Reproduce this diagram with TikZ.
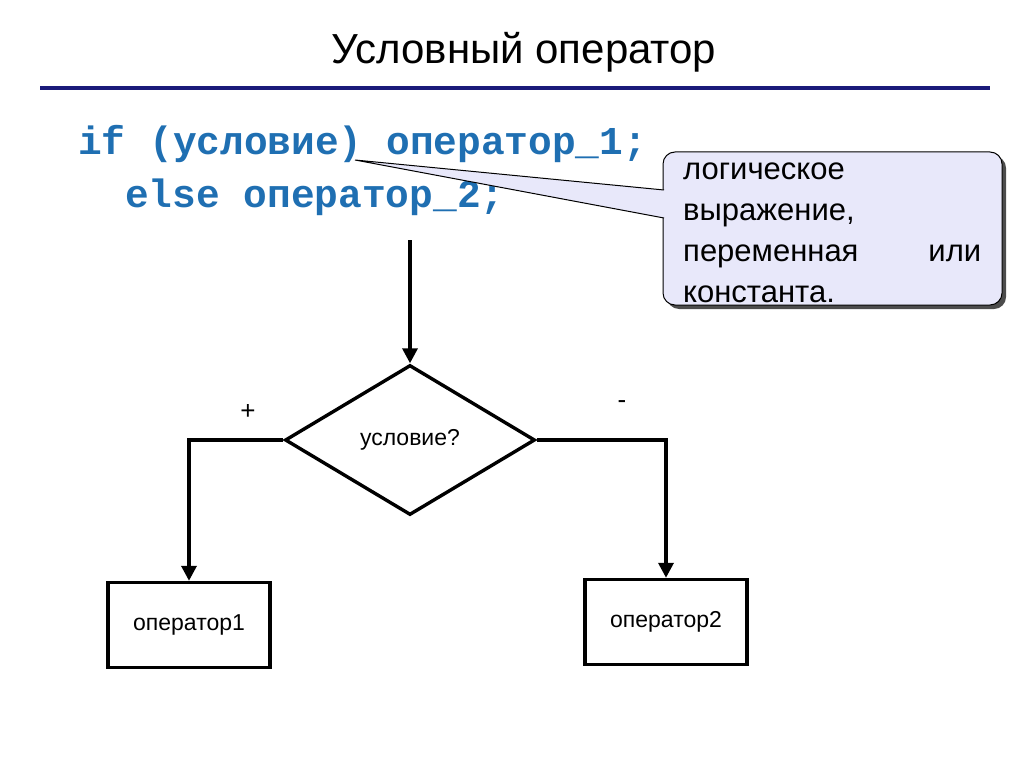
\documentclass[tikz,border=0pt]{standalone}
\usepackage{fontspec}
\setmainfont{Liberation Sans}
\newfontfamily\codefont{Liberation Mono}
\usetikzlibrary{arrows.meta,shapes.geometric}
\definecolor{codeblue}{HTML}{1F6FB2}
\definecolor{navy}{HTML}{1A1A7A}
\definecolor{lav}{HTML}{E8E8FA}
\begin{document}
\begin{tikzpicture}[x=1pt,y=-1pt,
  ln/.style={line width=3.4pt},
  arr/.style={ln,-{Triangle[length=15pt,width=15pt]}},
  opbox/.style={draw,line width=3.4pt,minimum width=162pt,minimum height=85pt,font=\fontsize{23}{26}\selectfont},
  code/.style={anchor=base west,text=codeblue,font=\codefont\bfseries\fontsize{39.5}{44}\selectfont,inner sep=0}]
\useasboundingbox (0,0) rectangle (1024,767);
\node[font=\fontsize{42}{46}\selectfont] (title) at (524,52) {Условный оператор};
\draw[navy,line width=3.5pt] (40,88) -- (990,88);
\node[code] (c1) at (78,155) {if (условие) оператор\_1;};
\node[code] (c2) at (125,208) {else оператор\_2;};
% callout
\fill[black!70,rounded corners=12pt] (667,156) rectangle (1006,309);
\draw[fill=lav,line width=1pt,rounded corners=12pt] (663,152) rectangle (1002,305);
\fill[lav] (664,190) -- (355,160) -- (664,218) -- cycle;
\draw[line width=1pt] (664,190) -- (355,160) -- (664,218);
\node[anchor=base west,align=left,text width=298pt,inner sep=0,font=\fontsize{31}{41}\selectfont] (note) at (683,180)
 {логическое\\выражение,\\переменная\hfill или\\константа.};
% flowchart
\coordinate (s) at (410,240);
\node[diamond,draw,ln,minimum width=250pt,minimum height=150pt,inner sep=0,aspect=1.67,font=\fontsize{23}{26}\selectfont] (d) at (410,440) {условие?};
\node[opbox] (b1) at (189,625) {оператор1};
\node[opbox] (b2) at (666,622) {оператор2};
\draw[arr] (s) -- (d.north);
\draw[arr] (d.west) -| (b1.north);
\draw[arr] (d.east) -| (b2.north);
\node[font=\fontsize{26}{26}\selectfont] (p) at (248,412) {+};
\node[font=\fontsize{26}{26}\selectfont] (m) at (622,405) {-};
\end{tikzpicture}
\end{document}
